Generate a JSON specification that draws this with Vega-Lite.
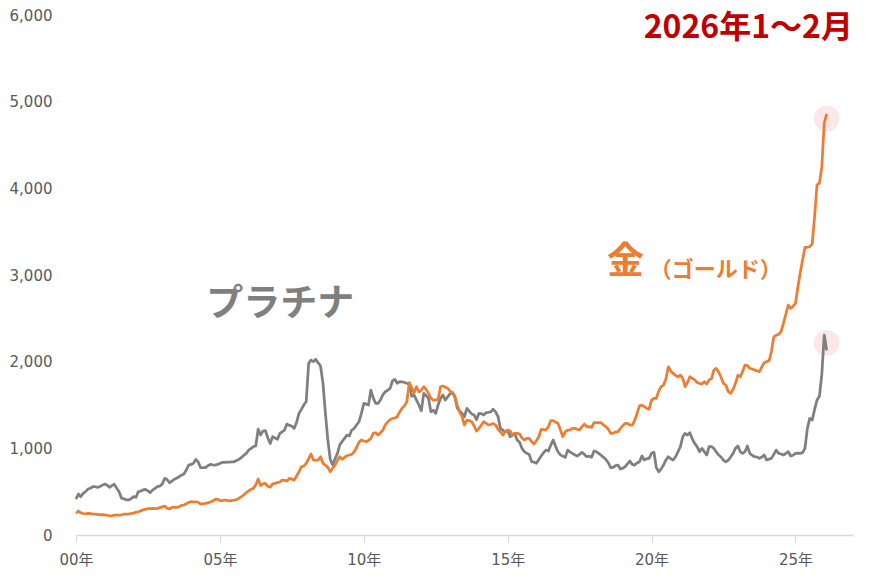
{
  "$schema": "https://vega.github.io/schema/vega-lite/v6.json",
  "width": 777,
  "height": 520,
  "autosize": {"type": "none"},
  "padding": {"left": 76, "top": 15, "right": 22, "bottom": 41},
  "background": "white",
  "config": {"view": {"stroke": null}},
  "data": {
    "format": {"parse": {"date": "utc:'%Y-%m'"}},
    "values": [
      {"date": "2000-01", "gold": 252, "platinum": 415},
      {"date": "2000-02", "gold": 277, "platinum": 473},
      {"date": "2000-03", "gold": 255, "platinum": 442},
      {"date": "2000-04", "gold": 248, "platinum": 480},
      {"date": "2000-05", "gold": 243, "platinum": 500},
      {"date": "2000-06", "gold": 250, "platinum": 530},
      {"date": "2000-07", "gold": 246, "platinum": 540},
      {"date": "2000-08", "gold": 240, "platinum": 557},
      {"date": "2000-09", "gold": 240, "platinum": 557},
      {"date": "2000-10", "gold": 237, "platinum": 550},
      {"date": "2000-11", "gold": 233, "platinum": 560},
      {"date": "2000-12", "gold": 235, "platinum": 575},
      {"date": "2001-01", "gold": 232, "platinum": 588},
      {"date": "2001-02", "gold": 228, "platinum": 575},
      {"date": "2001-03", "gold": 222, "platinum": 550},
      {"date": "2001-04", "gold": 222, "platinum": 570},
      {"date": "2001-05", "gold": 230, "platinum": 585},
      {"date": "2001-06", "gold": 230, "platinum": 540},
      {"date": "2001-07", "gold": 228, "platinum": 500},
      {"date": "2001-08", "gold": 232, "platinum": 423},
      {"date": "2001-09", "gold": 240, "platinum": 420},
      {"date": "2001-10", "gold": 240, "platinum": 404},
      {"date": "2001-11", "gold": 242, "platinum": 404},
      {"date": "2001-12", "gold": 248, "platinum": 420},
      {"date": "2002-01", "gold": 252, "platinum": 442},
      {"date": "2002-02", "gold": 265, "platinum": 435},
      {"date": "2002-03", "gold": 268, "platinum": 500},
      {"date": "2002-04", "gold": 278, "platinum": 505},
      {"date": "2002-05", "gold": 290, "platinum": 520},
      {"date": "2002-06", "gold": 295, "platinum": 527},
      {"date": "2002-07", "gold": 305, "platinum": 510},
      {"date": "2002-08", "gold": 305, "platinum": 488},
      {"date": "2002-09", "gold": 306, "platinum": 520},
      {"date": "2002-10", "gold": 305, "platinum": 538},
      {"date": "2002-11", "gold": 307, "platinum": 560},
      {"date": "2002-12", "gold": 316, "platinum": 565},
      {"date": "2003-01", "gold": 325, "platinum": 590},
      {"date": "2003-02", "gold": 334, "platinum": 654},
      {"date": "2003-03", "gold": 310, "platinum": 640},
      {"date": "2003-04", "gold": 300, "platinum": 603},
      {"date": "2003-05", "gold": 318, "platinum": 620},
      {"date": "2003-06", "gold": 322, "platinum": 642},
      {"date": "2003-07", "gold": 318, "platinum": 655},
      {"date": "2003-08", "gold": 326, "platinum": 672},
      {"date": "2003-09", "gold": 342, "platinum": 690},
      {"date": "2003-10", "gold": 346, "platinum": 704},
      {"date": "2003-11", "gold": 360, "platinum": 750},
      {"date": "2003-12", "gold": 376, "platinum": 807},
      {"date": "2004-01", "gold": 384, "platinum": 815},
      {"date": "2004-02", "gold": 380, "platinum": 827},
      {"date": "2004-03", "gold": 384, "platinum": 873},
      {"date": "2004-04", "gold": 378, "platinum": 840},
      {"date": "2004-05", "gold": 357, "platinum": 776},
      {"date": "2004-06", "gold": 362, "platinum": 776},
      {"date": "2004-07", "gold": 365, "platinum": 776},
      {"date": "2004-08", "gold": 370, "platinum": 800},
      {"date": "2004-09", "gold": 380, "platinum": 815},
      {"date": "2004-10", "gold": 392, "platinum": 810},
      {"date": "2004-11", "gold": 412, "platinum": 807},
      {"date": "2004-12", "gold": 415, "platinum": 815},
      {"date": "2005-01", "gold": 396, "platinum": 825},
      {"date": "2005-02", "gold": 396, "platinum": 838},
      {"date": "2005-03", "gold": 404, "platinum": 838},
      {"date": "2005-04", "gold": 400, "platinum": 840},
      {"date": "2005-05", "gold": 392, "platinum": 842},
      {"date": "2005-06", "gold": 400, "platinum": 845},
      {"date": "2005-07", "gold": 402, "platinum": 845},
      {"date": "2005-08", "gold": 408, "platinum": 860},
      {"date": "2005-09", "gold": 425, "platinum": 873},
      {"date": "2005-10", "gold": 442, "platinum": 895},
      {"date": "2005-11", "gold": 465, "platinum": 920},
      {"date": "2005-12", "gold": 488, "platinum": 942},
      {"date": "2006-01", "gold": 510, "platinum": 980},
      {"date": "2006-02", "gold": 527, "platinum": 1000},
      {"date": "2006-03", "gold": 538, "platinum": 1019},
      {"date": "2006-04", "gold": 580, "platinum": 1030},
      {"date": "2006-05", "gold": 645, "platinum": 1221},
      {"date": "2006-06", "gold": 570, "platinum": 1153},
      {"date": "2006-07", "gold": 590, "platinum": 1200},
      {"date": "2006-08", "gold": 596, "platinum": 1203},
      {"date": "2006-09", "gold": 560, "platinum": 1120},
      {"date": "2006-10", "gold": 552, "platinum": 1055},
      {"date": "2006-11", "gold": 590, "platinum": 1135},
      {"date": "2006-12", "gold": 596, "platinum": 1120},
      {"date": "2007-01", "gold": 605, "platinum": 1104},
      {"date": "2007-02", "gold": 612, "platinum": 1173},
      {"date": "2007-03", "gold": 634, "platinum": 1191},
      {"date": "2007-04", "gold": 630, "platinum": 1211},
      {"date": "2007-05", "gold": 623, "platinum": 1280},
      {"date": "2007-06", "gold": 654, "platinum": 1265},
      {"date": "2007-07", "gold": 645, "platinum": 1257},
      {"date": "2007-08", "gold": 634, "platinum": 1230},
      {"date": "2007-09", "gold": 680, "platinum": 1300},
      {"date": "2007-10", "gold": 730, "platinum": 1403},
      {"date": "2007-11", "gold": 788, "platinum": 1450},
      {"date": "2007-12", "gold": 795, "platinum": 1500},
      {"date": "2008-01", "gold": 827, "platinum": 1540},
      {"date": "2008-02", "gold": 880, "platinum": 1980},
      {"date": "2008-03", "gold": 934, "platinum": 2018},
      {"date": "2008-04", "gold": 865, "platinum": 2000},
      {"date": "2008-05", "gold": 865, "platinum": 2027},
      {"date": "2008-06", "gold": 865, "platinum": 1985},
      {"date": "2008-07", "gold": 903, "platinum": 1950},
      {"date": "2008-08", "gold": 827, "platinum": 1750},
      {"date": "2008-09", "gold": 807, "platinum": 1400},
      {"date": "2008-10", "gold": 780, "platinum": 1100},
      {"date": "2008-11", "gold": 730, "platinum": 870},
      {"date": "2008-12", "gold": 770, "platinum": 810},
      {"date": "2009-01", "gold": 807, "platinum": 880},
      {"date": "2009-02", "gold": 860, "platinum": 942},
      {"date": "2009-03", "gold": 903, "platinum": 1038},
      {"date": "2009-04", "gold": 873, "platinum": 1080},
      {"date": "2009-05", "gold": 895, "platinum": 1115},
      {"date": "2009-06", "gold": 915, "platinum": 1153},
      {"date": "2009-07", "gold": 923, "platinum": 1142},
      {"date": "2009-08", "gold": 930, "platinum": 1211},
      {"date": "2009-09", "gold": 961, "platinum": 1230},
      {"date": "2009-10", "gold": 1010, "platinum": 1270},
      {"date": "2009-11", "gold": 1070, "platinum": 1307},
      {"date": "2009-12", "gold": 1096, "platinum": 1400},
      {"date": "2010-01", "gold": 1085, "platinum": 1519},
      {"date": "2010-02", "gold": 1076, "platinum": 1510},
      {"date": "2010-03", "gold": 1090, "platinum": 1499},
      {"date": "2010-04", "gold": 1115, "platinum": 1672},
      {"date": "2010-05", "gold": 1173, "platinum": 1580},
      {"date": "2010-06", "gold": 1180, "platinum": 1519},
      {"date": "2010-07", "gold": 1153, "platinum": 1519},
      {"date": "2010-08", "gold": 1180, "platinum": 1560},
      {"date": "2010-09", "gold": 1211, "platinum": 1620},
      {"date": "2010-10", "gold": 1270, "platinum": 1653},
      {"date": "2010-11", "gold": 1307, "platinum": 1670},
      {"date": "2010-12", "gold": 1330, "platinum": 1692},
      {"date": "2011-01", "gold": 1346, "platinum": 1780},
      {"date": "2011-02", "gold": 1350, "platinum": 1796},
      {"date": "2011-03", "gold": 1365, "platinum": 1750},
      {"date": "2011-04", "gold": 1420, "platinum": 1770},
      {"date": "2011-05", "gold": 1461, "platinum": 1768},
      {"date": "2011-06", "gold": 1490, "platinum": 1760},
      {"date": "2011-07", "gold": 1538, "platinum": 1750},
      {"date": "2011-08", "gold": 1757, "platinum": 1740},
      {"date": "2011-09", "gold": 1700, "platinum": 1600},
      {"date": "2011-10", "gold": 1640, "platinum": 1615},
      {"date": "2011-11", "gold": 1711, "platinum": 1557},
      {"date": "2011-12", "gold": 1653, "platinum": 1500},
      {"date": "2012-01", "gold": 1670, "platinum": 1434},
      {"date": "2012-02", "gold": 1711, "platinum": 1634},
      {"date": "2012-03", "gold": 1680, "platinum": 1610},
      {"date": "2012-04", "gold": 1634, "platinum": 1577},
      {"date": "2012-05", "gold": 1580, "platinum": 1422},
      {"date": "2012-06", "gold": 1557, "platinum": 1440},
      {"date": "2012-07", "gold": 1560, "platinum": 1403},
      {"date": "2012-08", "gold": 1565, "platinum": 1500},
      {"date": "2012-09", "gold": 1711, "platinum": 1577},
      {"date": "2012-10", "gold": 1719, "platinum": 1615},
      {"date": "2012-11", "gold": 1705, "platinum": 1557},
      {"date": "2012-12", "gold": 1692, "platinum": 1595},
      {"date": "2013-01", "gold": 1660, "platinum": 1630},
      {"date": "2013-02", "gold": 1640, "platinum": 1642},
      {"date": "2013-03", "gold": 1600, "platinum": 1595},
      {"date": "2013-04", "gold": 1499, "platinum": 1465},
      {"date": "2013-05", "gold": 1420, "platinum": 1430},
      {"date": "2013-06", "gold": 1365, "platinum": 1403},
      {"date": "2013-07", "gold": 1269, "platinum": 1365},
      {"date": "2013-08", "gold": 1326, "platinum": 1461},
      {"date": "2013-09", "gold": 1320, "platinum": 1430},
      {"date": "2013-10", "gold": 1307, "platinum": 1396},
      {"date": "2013-11", "gold": 1260, "platinum": 1384},
      {"date": "2013-12", "gold": 1200, "platinum": 1330},
      {"date": "2014-01", "gold": 1230, "platinum": 1403},
      {"date": "2014-02", "gold": 1270, "platinum": 1400},
      {"date": "2014-03", "gold": 1307, "platinum": 1384},
      {"date": "2014-04", "gold": 1290, "platinum": 1411},
      {"date": "2014-05", "gold": 1269, "platinum": 1415},
      {"date": "2014-06", "gold": 1275, "platinum": 1422},
      {"date": "2014-07", "gold": 1288, "platinum": 1450},
      {"date": "2014-08", "gold": 1269, "platinum": 1420},
      {"date": "2014-09", "gold": 1220, "platinum": 1365},
      {"date": "2014-10", "gold": 1191, "platinum": 1230},
      {"date": "2014-11", "gold": 1153, "platinum": 1210},
      {"date": "2014-12", "gold": 1191, "platinum": 1191},
      {"date": "2015-01", "gold": 1211, "platinum": 1211},
      {"date": "2015-02", "gold": 1200, "platinum": 1134},
      {"date": "2015-03", "gold": 1153, "platinum": 1150},
      {"date": "2015-04", "gold": 1173, "platinum": 1173},
      {"date": "2015-05", "gold": 1173, "platinum": 1096},
      {"date": "2015-06", "gold": 1165, "platinum": 1070},
      {"date": "2015-07", "gold": 1120, "platinum": 1000},
      {"date": "2015-08", "gold": 1096, "platinum": 961},
      {"date": "2015-09", "gold": 1115, "platinum": 942},
      {"date": "2015-10", "gold": 1115, "platinum": 930},
      {"date": "2015-11", "gold": 1076, "platinum": 845},
      {"date": "2015-12", "gold": 1050, "platinum": 840},
      {"date": "2016-01", "gold": 1090, "platinum": 827},
      {"date": "2016-02", "gold": 1134, "platinum": 870},
      {"date": "2016-03", "gold": 1219, "platinum": 911},
      {"date": "2016-04", "gold": 1215, "platinum": 950},
      {"date": "2016-05", "gold": 1211, "platinum": 980},
      {"date": "2016-06", "gold": 1249, "platinum": 969},
      {"date": "2016-07", "gold": 1319, "platinum": 1038},
      {"date": "2016-08", "gold": 1319, "platinum": 1096},
      {"date": "2016-09", "gold": 1300, "platinum": 1020},
      {"date": "2016-10", "gold": 1288, "platinum": 961},
      {"date": "2016-11", "gold": 1211, "platinum": 923},
      {"date": "2016-12", "gold": 1134, "platinum": 910},
      {"date": "2017-01", "gold": 1191, "platinum": 896},
      {"date": "2017-02", "gold": 1211, "platinum": 980},
      {"date": "2017-03", "gold": 1211, "platinum": 960},
      {"date": "2017-04", "gold": 1230, "platinum": 942},
      {"date": "2017-05", "gold": 1230, "platinum": 925},
      {"date": "2017-06", "gold": 1220, "platinum": 911},
      {"date": "2017-07", "gold": 1211, "platinum": 930},
      {"date": "2017-08", "gold": 1250, "platinum": 954},
      {"date": "2017-09", "gold": 1280, "platinum": 930},
      {"date": "2017-10", "gold": 1249, "platinum": 903},
      {"date": "2017-11", "gold": 1250, "platinum": 910},
      {"date": "2017-12", "gold": 1242, "platinum": 896},
      {"date": "2018-01", "gold": 1296, "platinum": 969},
      {"date": "2018-02", "gold": 1296, "platinum": 960},
      {"date": "2018-03", "gold": 1296, "platinum": 942},
      {"date": "2018-04", "gold": 1296, "platinum": 920},
      {"date": "2018-05", "gold": 1269, "platinum": 896},
      {"date": "2018-06", "gold": 1250, "platinum": 870},
      {"date": "2018-07", "gold": 1219, "platinum": 834},
      {"date": "2018-08", "gold": 1173, "platinum": 776},
      {"date": "2018-09", "gold": 1173, "platinum": 780},
      {"date": "2018-10", "gold": 1191, "platinum": 800},
      {"date": "2018-11", "gold": 1191, "platinum": 807},
      {"date": "2018-12", "gold": 1230, "platinum": 761},
      {"date": "2019-01", "gold": 1260, "platinum": 770},
      {"date": "2019-02", "gold": 1288, "platinum": 788},
      {"date": "2019-03", "gold": 1288, "platinum": 820},
      {"date": "2019-04", "gold": 1269, "platinum": 853},
      {"date": "2019-05", "gold": 1269, "platinum": 815},
      {"date": "2019-06", "gold": 1320, "platinum": 807},
      {"date": "2019-07", "gold": 1403, "platinum": 830},
      {"date": "2019-08", "gold": 1490, "platinum": 845},
      {"date": "2019-09", "gold": 1499, "platinum": 911},
      {"date": "2019-10", "gold": 1480, "platinum": 865},
      {"date": "2019-11", "gold": 1460, "platinum": 880},
      {"date": "2019-12", "gold": 1450, "platinum": 884},
      {"date": "2020-01", "gold": 1557, "platinum": 942},
      {"date": "2020-02", "gold": 1577, "platinum": 955},
      {"date": "2020-03", "gold": 1577, "platinum": 780},
      {"date": "2020-04", "gold": 1660, "platinum": 730},
      {"date": "2020-05", "gold": 1711, "platinum": 760},
      {"date": "2020-06", "gold": 1730, "platinum": 807},
      {"date": "2020-07", "gold": 1800, "platinum": 865},
      {"date": "2020-08", "gold": 1941, "platinum": 903},
      {"date": "2020-09", "gold": 1890, "platinum": 880},
      {"date": "2020-10", "gold": 1865, "platinum": 865},
      {"date": "2020-11", "gold": 1840, "platinum": 903},
      {"date": "2020-12", "gold": 1826, "platinum": 960},
      {"date": "2021-01", "gold": 1845, "platinum": 1019},
      {"date": "2021-02", "gold": 1807, "platinum": 1134},
      {"date": "2021-03", "gold": 1711, "platinum": 1173},
      {"date": "2021-04", "gold": 1760, "platinum": 1153},
      {"date": "2021-05", "gold": 1826, "platinum": 1180},
      {"date": "2021-06", "gold": 1807, "platinum": 1110},
      {"date": "2021-07", "gold": 1790, "platinum": 1057},
      {"date": "2021-08", "gold": 1760, "platinum": 1019},
      {"date": "2021-09", "gold": 1750, "platinum": 961},
      {"date": "2021-10", "gold": 1742, "platinum": 1000},
      {"date": "2021-11", "gold": 1768, "platinum": 960},
      {"date": "2021-12", "gold": 1742, "platinum": 923},
      {"date": "2022-01", "gold": 1790, "platinum": 1019},
      {"date": "2022-02", "gold": 1807, "platinum": 1019},
      {"date": "2022-03", "gold": 1900, "platinum": 1000},
      {"date": "2022-04", "gold": 1922, "platinum": 961},
      {"date": "2022-05", "gold": 1884, "platinum": 923},
      {"date": "2022-06", "gold": 1820, "platinum": 900},
      {"date": "2022-07", "gold": 1750, "platinum": 865},
      {"date": "2022-08", "gold": 1730, "platinum": 845},
      {"date": "2022-09", "gold": 1653, "platinum": 865},
      {"date": "2022-10", "gold": 1634, "platinum": 900},
      {"date": "2022-11", "gold": 1680, "platinum": 942},
      {"date": "2022-12", "gold": 1750, "platinum": 1000},
      {"date": "2023-01", "gold": 1845, "platinum": 1027},
      {"date": "2023-02", "gold": 1826, "platinum": 960},
      {"date": "2023-03", "gold": 1884, "platinum": 942},
      {"date": "2023-04", "gold": 1961, "platinum": 961},
      {"date": "2023-05", "gold": 1955, "platinum": 1027},
      {"date": "2023-06", "gold": 1922, "platinum": 942},
      {"date": "2023-07", "gold": 1915, "platinum": 920},
      {"date": "2023-08", "gold": 1903, "platinum": 903},
      {"date": "2023-09", "gold": 1895, "platinum": 900},
      {"date": "2023-10", "gold": 1884, "platinum": 884},
      {"date": "2023-11", "gold": 1940, "platinum": 900},
      {"date": "2023-12", "gold": 1988, "platinum": 923},
      {"date": "2024-01", "gold": 2000, "platinum": 865},
      {"date": "2024-02", "gold": 2010, "platinum": 875},
      {"date": "2024-03", "gold": 2114, "platinum": 884},
      {"date": "2024-04", "gold": 2287, "platinum": 930},
      {"date": "2024-05", "gold": 2305, "platinum": 980},
      {"date": "2024-06", "gold": 2315, "platinum": 942},
      {"date": "2024-07", "gold": 2345, "platinum": 935},
      {"date": "2024-08", "gold": 2442, "platinum": 923},
      {"date": "2024-09", "gold": 2550, "platinum": 940},
      {"date": "2024-10", "gold": 2653, "platinum": 961},
      {"date": "2024-11", "gold": 2615, "platinum": 911},
      {"date": "2024-12", "gold": 2640, "platinum": 920},
      {"date": "2025-01", "gold": 2672, "platinum": 942},
      {"date": "2025-02", "gold": 2864, "platinum": 945},
      {"date": "2025-03", "gold": 3018, "platinum": 942},
      {"date": "2025-04", "gold": 3172, "platinum": 950},
      {"date": "2025-05", "gold": 3318, "platinum": 1000},
      {"date": "2025-06", "gold": 3320, "platinum": 1230},
      {"date": "2025-07", "gold": 3326, "platinum": 1346},
      {"date": "2025-08", "gold": 3360, "platinum": 1326},
      {"date": "2025-09", "gold": 3680, "platinum": 1450},
      {"date": "2025-10", "gold": 4040, "platinum": 1557},
      {"date": "2025-11", "gold": 4060, "platinum": 1600},
      {"date": "2025-12", "gold": 4250, "platinum": 1850},
      {"date": "2026-01", "gold": 4750, "platinum": 2307},
      {"date": "2026-02", "gold": 4860, "platinum": 2130}
    ]
  },
  "encoding": {
    "x": {
      "field": "date",
      "type": "temporal",
      "scale": {
        "type": "utc",
        "domain": [
          {"year": 2000, "month": 1, "date": 1, "utc": true},
          {"year": 2027, "month": 1, "date": 1, "utc": true}
        ]
      },
      "axis": {
        "title": null,
        "grid": false,
        "values": [
          {"year": 2000, "month": 1, "date": 1, "utc": true},
          {"year": 2005, "month": 1, "date": 1, "utc": true},
          {"year": 2010, "month": 1, "date": 1, "utc": true},
          {"year": 2015, "month": 1, "date": 1, "utc": true},
          {"year": 2020, "month": 1, "date": 1, "utc": true},
          {"year": 2025, "month": 1, "date": 1, "utc": true}
        ],
        "labelExpr": "utcFormat(datum.value, '%y') + '年'",
        "labelFlush": false,
        "labelOverlap": false,
        "labelFont": "DejaVu Sans, Noto Sans CJK JP",
        "labelFontSize": 15,
        "labelColor": "#595959",
        "labelPadding": 10,
        "domainColor": "#d9d9d9",
        "domainWidth": 1.5,
        "tickColor": "#d9d9d9",
        "tickSize": 7
      }
    }
  },
  "layer": [
    {
      "transform": [
        {"filter": "utcyear(datum.date) >= 2026"},
        {"fold": ["gold", "platinum"], "as": ["metal", "price"]},
        {
          "aggregate": [
            {"op": "mean", "field": "price", "as": "price"},
            {"op": "max", "field": "date", "as": "date"}
          ],
          "groupby": ["metal"]
        }
      ],
      "mark": {"type": "circle", "size": 660, "color": "#f8d7d7", "opacity": 0.6},
      "encoding": {
        "y": {
          "field": "price",
          "type": "quantitative",
          "title": null,
          "scale": {"domain": [0, 6000], "nice": false},
          "axis": {
            "title": null,
            "grid": false,
            "domain": false,
            "ticks": false,
            "tickSize": 0,
            "values": [0, 1000, 2000, 3000, 4000, 5000, 6000],
            "format": ",.0f",
            "labelFont": "DejaVu Sans",
            "labelFontSize": 15,
            "labelColor": "#595959",
            "labelPadding": 24
          }
        }
      }
    },
    {
      "mark": {"type": "line", "color": "#7f7f7f", "strokeWidth": 2.75, "strokeJoin": "round"},
      "encoding": {"y": {"field": "platinum", "type": "quantitative", "title": null}}
    },
    {
      "mark": {"type": "line", "color": "#ed7d31", "strokeWidth": 2.75, "strokeJoin": "round"},
      "encoding": {"y": {"field": "gold", "type": "quantitative", "title": null}}
    },
    {
      "transform": [{"filter": "utcyear(datum.date) == 2000"}, {"filter": "utcmonth(datum.date) == 0"}],
      "mark": {
        "type": "text",
        "text": "プラチナ",
        "font": "Noto Sans CJK JP",
        "fontWeight": "bold",
        "fontSize": 37,
        "color": "#7f7f7f",
        "align": "center",
        "baseline": "middle"
      },
      "encoding": {
        "x": {"datum": {"year": 2007, "month": 2, "date": 7, "utc": true}, "type": "temporal"},
        "y": {"datum": 2650, "type": "quantitative"}
      }
    },
    {
      "transform": [{"filter": "utcyear(datum.date) == 2000"}, {"filter": "utcmonth(datum.date) == 0"}],
      "mark": {
        "type": "text",
        "text": "金",
        "font": "Noto Sans CJK JP",
        "fontWeight": "bold",
        "fontSize": 37,
        "color": "#ed7d31",
        "align": "center",
        "baseline": "middle"
      },
      "encoding": {
        "x": {"datum": {"year": 2019, "month": 2, "date": 3, "utc": true}, "type": "temporal"},
        "y": {"datum": 3137, "type": "quantitative"}
      }
    },
    {
      "transform": [{"filter": "utcyear(datum.date) == 2000"}, {"filter": "utcmonth(datum.date) == 0"}],
      "mark": {
        "type": "text",
        "text": "（ゴールド）",
        "font": "Noto Sans CJK JP",
        "fontWeight": "bold",
        "fontSize": 22,
        "color": "#ed7d31",
        "align": "center",
        "baseline": "middle"
      },
      "encoding": {
        "x": {"datum": {"year": 2022, "month": 3, "date": 25, "utc": true}, "type": "temporal"},
        "y": {"datum": 3057, "type": "quantitative"}
      }
    },
    {
      "transform": [{"filter": "utcyear(datum.date) == 2000"}, {"filter": "utcmonth(datum.date) == 0"}],
      "mark": {
        "type": "text",
        "text": "2026年1～2月",
        "font": "Noto Sans CJK JP",
        "fontWeight": "bold",
        "fontSize": 32,
        "color": "#c00000",
        "align": "right",
        "baseline": "middle"
      },
      "encoding": {
        "x": {"datum": {"year": 2027, "month": 1, "date": 1, "utc": true}, "type": "temporal"},
        "y": {"datum": 5850, "type": "quantitative"}
      }
    }
  ]
}
